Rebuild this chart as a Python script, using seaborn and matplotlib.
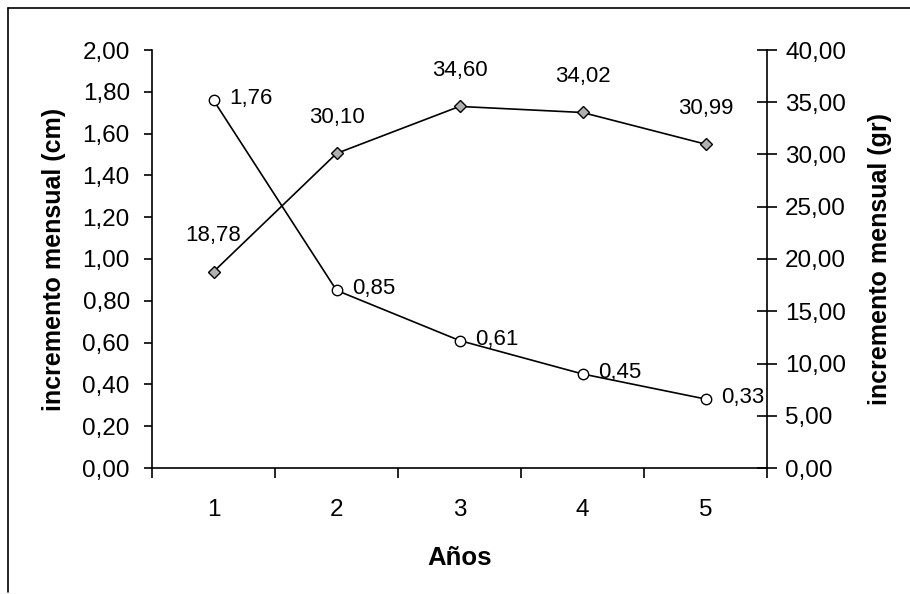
import matplotlib
matplotlib.use("Agg")
import matplotlib.pyplot as plt
from matplotlib.lines import Line2D
from matplotlib.ticker import FixedLocator, FuncFormatter
import seaborn as sns
import pandas as pd

# Data
anios = [1, 2, 3, 4, 5]
incremento_cm = [1.76, 0.85, 0.61, 0.45, 0.33]
incremento_gr = [18.78, 30.10, 34.60, 34.02, 30.99]

sns.set_style("white")
plt.rcParams["font.family"] = ["Liberation Sans", "DejaVu Sans"]
plt.rcParams["text.color"] = "black"
plt.rcParams["axes.labelcolor"] = "black"
plt.rcParams["xtick.color"] = "black"
plt.rcParams["ytick.color"] = "black"

df = pd.DataFrame({"anio": anios, "cm": incremento_cm, "gr": incremento_gr})

fig = plt.figure(figsize=(9.10, 5.94), dpi=100)
ax = fig.add_axes([152 / 910, 1 - 468 / 594, (767 - 152) / 910, (468 - 50) / 594])
ax2 = ax.twinx()

def coma(v, dec=2):
    return f"{v:.{dec}f}".replace(".", ",")

# Growth in length (left axis)
sns.lineplot(data=df, x="anio", y="cm", ax=ax, color="black", linewidth=1.2,
             marker="o", markersize=7.5, markerfacecolor="white",
             markeredgecolor="black", markeredgewidth=1.0)
# Growth in weight (right axis)
sns.lineplot(data=df, x="anio", y="gr", ax=ax2, color="black", linewidth=1.2,
             marker="D", markersize=6.5, markerfacecolor="#b0b0b0",
             markeredgecolor="black", markeredgewidth=1.0)

for x, v in zip(anios, incremento_cm):
    ax.annotate(coma(v), (x, v), xytext=(11, 1), textcoords="offset points",
                ha="left", va="center", fontsize=16, color="black")
for x, v in zip(anios, incremento_gr):
    ax2.annotate(coma(v), (x, v), xytext=(0, 26), textcoords="offset points",
                 ha="center", va="center", fontsize=16, color="black")

ax.set_xlim(0.5, 5.5)
ax.set_ylim(0, 2.0)
ax2.set_ylim(0, 40)

ax.set_yticks([i * 0.2 for i in range(11)])
ax.yaxis.set_major_formatter(FuncFormatter(lambda v, p: coma(v)))
ax2.set_yticks([i * 5 for i in range(9)])
ax2.yaxis.set_major_formatter(FuncFormatter(lambda v, p: coma(v)))

# Category labels centred, tick marks on the boundaries
ax.xaxis.set_major_locator(FixedLocator(anios))
ax.xaxis.set_minor_locator(FixedLocator([a + 0.5 for a in [0] + anios]))
ax.set_xticklabels([str(a) for a in anios])
ax.tick_params(axis="x", which="major", length=0, pad=22, labelsize=17.5)
ax.tick_params(axis="x", which="minor", direction="out", length=7, width=1.2,
               color="black", bottom=True)
ax.tick_params(axis="y", direction="out", length=6, width=1.2, color="black",
               labelsize=17.5, pad=10, left=True)
ax2.tick_params(axis="y", direction="inout", length=14, width=1.2, color="black",
                labelsize=17.5, pad=6, right=True)

ax.set_xlabel("Años", fontsize=18.5, fontweight="bold", labelpad=18)
ax.set_ylabel("incremento mensual (cm)", fontsize=18, fontweight="bold", labelpad=12)
ax2.set_ylabel("incremento mensual (gr)", fontsize=18, fontweight="bold", labelpad=16)

for a in (ax, ax2):
    a.spines["top"].set_visible(False)
    for s in ("left", "bottom", "right"):
        a.spines[s].set_color("black")
        a.spines[s].set_linewidth(1.2)
ax.spines["right"].set_visible(False)
ax2.spines["left"].set_visible(False)
ax2.spines["bottom"].set_visible(False)

# Outer frame (left and top edges)
fig.add_artist(Line2D([8 / 910, 8 / 910], [1 - 592 / 594, 1 - 8 / 594],
                      transform=fig.transFigure, color="black", linewidth=1.2))
fig.add_artist(Line2D([8 / 910, 1.0], [1 - 8 / 594, 1 - 8 / 594],
                      transform=fig.transFigure, color="black", linewidth=1.2))

fig.savefig("out.png", dpi=100, facecolor="white")
